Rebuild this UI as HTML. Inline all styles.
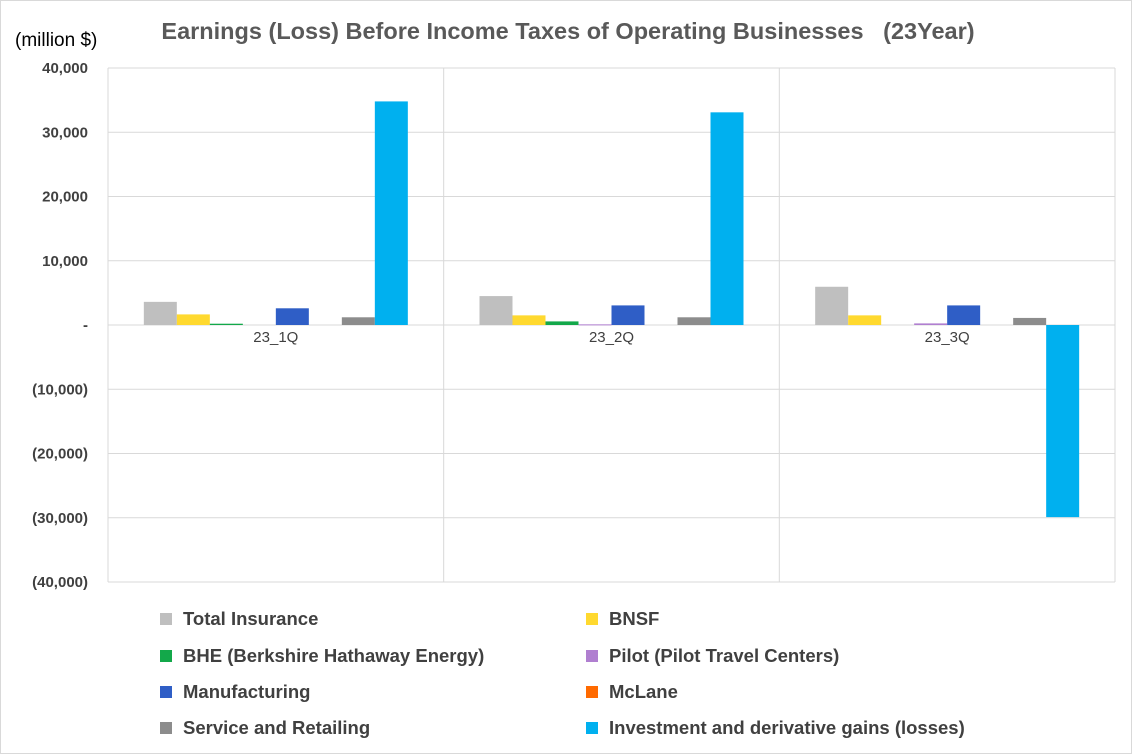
<!DOCTYPE html>
<html><head><meta charset="utf-8"><style>
body{margin:0;background:#fff;font-family:"Liberation Sans",sans-serif}
svg{display:block}
</style></head><body>
<svg id="c" width="1132" height="754" xmlns="http://www.w3.org/2000/svg">
<rect x="0.5" y="0.5" width="1131" height="753" fill="#fff" stroke="#d9d9d9"/>
<text x="568" y="39" text-anchor="middle" font-size="23.5" font-weight="bold" fill="#595959" style="white-space:pre">Earnings (Loss) Before Income Taxes of Operating Businesses&#160;&#160;&#160;(23Year)</text>
<text x="15" y="46" font-size="19" fill="#000">(million $)</text>
<g id="grid"></g><g id="bars"></g><g id="labels"></g><g id="legend"></g>
</svg>
<script>
const categories=["23_1Q","23_2Q","23_3Q"];
const seriesNames=["Total Insurance","BNSF","BHE (Berkshire Hathaway Energy)","Pilot (Pilot Travel Centers)","Manufacturing","McLane","Service and Retailing","Investment and derivative gains (losses)"];
const totalInsurance=[3600,4500,5950];
const bnsf=[1650,1500,1500];
const bhe=[200,560,0];
const pilot=[0,100,250];
const manufacturing=[2600,3050,3050];
const mclane=[0,0,0];
const serviceRetailing=[1200,1200,1100];
const investment=[34800,33100,-29900];
const yTicks=[40000,30000,20000,10000,0,-10000,-20000,-30000,-40000];
const yTickLabels=["40,000","30,000","20,000","10,000","-","(10,000)","(20,000)","(30,000)","(40,000)"];
const colors=["#bfbfbf","#ffd92f","#13a84a","#b07fd0","#2f5ec6","#ff6a00","#8c8c8c","#00b0ef"];
const series=[totalInsurance,bnsf,bhe,pilot,manufacturing,mclane,serviceRetailing,investment];
const NS="http://www.w3.org/2000/svg";
const L=108,R=1115,T=68,B=582,yMin=-40000,yMax=40000;
const y=v=>T+(yMax-v)/(yMax-yMin)*(B-T);
const gw=(R-L)/categories.length;
const bw=33,gap=(gw-bw*series.length)/2;
function mk(tag,attrs,parent){const e=document.createElementNS(NS,tag);for(const k in attrs)e.setAttribute(k,attrs[k]);document.getElementById(parent).appendChild(e);return e;}
yTicks.forEach((t,i)=>{
 const l=mk("line",{x1:L,x2:R,y1:y(t),y2:y(t),stroke:"#d9d9d9","stroke-width":1},"grid");
 
 
 const tx=mk("text",{x:88,y:y(t)+5,"text-anchor":"end","font-size":15,"font-weight":"bold",fill:"#404040"},"labels");
 tx.textContent=yTickLabels[i];
 
 
});
for(let i=0;i<=categories.length;i++){
 const l=mk("line",{x1:L+i*gw,x2:L+i*gw,y1:T,y2:B,stroke:"#d9d9d9","stroke-width":1},"grid");
 
 
}
categories.forEach((c,ci)=>{
 series.forEach((s,si)=>{
  const v=s[ci],x=L+ci*gw+gap+si*bw;
  const r=mk("rect",{x:x,y:Math.min(y(v),y(0)),width:bw,height:Math.max(Math.abs(y(v)-y(0)),v!==0?1:0),fill:colors[si]},"bars");
  
  
 });
 const tx=mk("text",{x:L+ci*gw+gw/2,y:y(0)+17,"text-anchor":"middle","font-size":15,fill:"#404040"},"labels");
 tx.textContent=c;
 
 
});
const lx=[160,586],ly=[619,656,692,728];
seriesNames.forEach((n,i)=>{
 const col=i%2,row=Math.floor(i/2);
 const r=mk("rect",{x:lx[col],y:ly[row]-6,width:12,height:12,fill:colors[i]},"legend");
 
 
 const tx=mk("text",{x:lx[col]+23,y:ly[row]+6,"font-size":18.5,"font-weight":"bold",fill:"#404040"},"legend");
 tx.textContent=n;
 
 
});
</script>
</body></html>
